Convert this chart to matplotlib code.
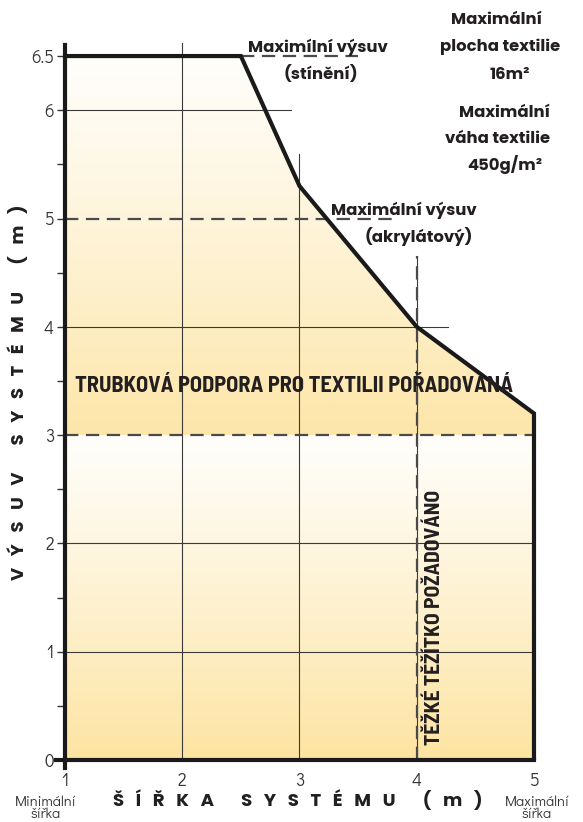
import numpy as np
import matplotlib
matplotlib.use("Agg")
import matplotlib.pyplot as plt
from matplotlib.patches import Polygon
from matplotlib.colors import to_rgb

# ---- data ----
width_m = [1.0, 1.0, 2.5, 3.0, 4.0, 5.0, 5.0]      # system width (m)
extension_m = [0.0, 6.5, 6.5, 5.3, 4.0, 3.2, 0.0]  # max extension (m)
x_ticks = [1, 2, 3, 4, 5]
y_ticks = [0, 1, 2, 3, 4, 5, 6, 6.5]
y_tick_labels = ["0", "1", "2", "3", "4", "5", "6", "6.5"]
shading_limit = 6.5
acrylic_limit = 5.0
tube_support_limit = 3.0
heavy_weight_width = 4.0

GEO = ["Poppins", "Montserrat", "Questrial", "DejaVu Sans"]
LIGHT = ["Didact Gothic", "Questrial", "DejaVu Sans"]
COND = ["Barlow Semi Condensed", "Roboto Condensed", "DejaVu Sans"]
INK = "#231f20"

fig = plt.figure(figsize=(5.83, 8.22), dpi=100)
W, H = 583, 822
xlim = (0.85, 5.3)
ylim = (-0.1, 6.8)
def px_x(x): return 65 + (x - 1) * 117.25
def px_y(y): return 760 - y * 108.3
left = px_x(xlim[0]) / W
right = px_x(xlim[1]) / W
bottom = (H - px_y(ylim[0])) / H
top = (H - px_y(ylim[1])) / H
ax = fig.add_axes([left, bottom, right - left, top - bottom])
ax.set_xlim(*xlim)
ax.set_ylim(*ylim)
ax.patch.set_alpha(0)

# ---- gradient fill clipped to polygon ----
poly = Polygon(list(zip(width_m, extension_m)), closed=True, facecolor="none",
               edgecolor="none")
ax.add_patch(poly)
ny = 600
ys = np.linspace(0, shading_limit, ny)
white = np.array(to_rgb("#FFFEFB"))
yel_hi = np.array(to_rgb("#FDE6A9"))
yel_lo = np.array(to_rgb("#FDE4A2"))
cols = np.zeros((ny, 1, 3))
for i, yv in enumerate(ys):
    if yv >= tube_support_limit:
        t = (shading_limit - yv) / (shading_limit - tube_support_limit)
        c = white + (yel_hi - white) * t ** 1.1
    else:
        t = (tube_support_limit - yv) / tube_support_limit
        c = white + (yel_lo - white) * t ** 1.1
    cols[i, 0] = c
im = ax.imshow(cols, extent=(1, 5, 0, shading_limit), origin="lower",
               aspect="auto", interpolation="bilinear", zorder=1)
im.set_clip_path(poly)

grid_c = "#3a3a3a"
ax.plot([1, 5], [1, 1], color=grid_c, lw=0.8, zorder=2)
ax.plot([1, 5], [2, 2], color=grid_c, lw=0.8, zorder=2)
ax.plot([1, 4.27], [4, 4], color=grid_c, lw=0.8, zorder=2)
ax.plot([1, 2.93], [6, 6], color=grid_c, lw=0.8, zorder=2)
ax.plot([2, 2], [0, 6.62], color=grid_c, lw=0.8, zorder=2)
ax.plot([3, 3], [0, 5.6], color=grid_c, lw=0.8, zorder=2)
ax.plot([heavy_weight_width] * 2, [0, 4.65], color=grid_c, lw=0.8, zorder=2)

dash_c = "#4a4a4a"
ds = dict(color=dash_c, lw=1.6, dashes=(6, 3.4), zorder=3)
ax.plot([1, 5], [tube_support_limit] * 2, **ds)
ax.plot([1, 3.82], [acrylic_limit] * 2, **ds)
ax.plot([2.5, 3.5], [shading_limit] * 2, **ds)
ax.plot([heavy_weight_width] * 2, [0, 4.65], **ds)

ax.plot(width_m[1:], extension_m[1:], color="#1a1a1a", lw=3.0,
        solid_joinstyle="miter", solid_capstyle="butt", zorder=5)

for s in ["top", "right"]:
    ax.spines[s].set_visible(False)
ax.spines["left"].set_position(("data", 1))
ax.spines["bottom"].set_position(("data", 0))
ax.spines["left"].set_bounds(-0.07, 6.6)
ax.spines["bottom"].set_bounds(0.92, 5.0)
for s in ["left", "bottom"]:
    ax.spines[s].set_linewidth(3.0)
    ax.spines[s].set_color("#1a1a1a")
    ax.spines[s].set_zorder(6)

ax.set_yticks(y_ticks)
ax.set_yticklabels(y_tick_labels)
ax.set_yticks(np.arange(0.5, 6.0, 1.0), minor=True)
ax.tick_params(axis="y", which="major", length=6, width=1.0, color="#333333",
               labelsize=12.5, labelcolor="#333333", pad=2)
ax.tick_params(axis="y", which="minor", length=6, width=1.0, color="#333333")
ax.set_xticks(x_ticks)
ax.set_xticklabels([str(v) for v in x_ticks])
ax.tick_params(axis="x", length=0, labelsize=12.5, labelcolor="#333333", pad=9)
for lab in ax.get_xticklabels() + ax.get_yticklabels():
    lab.set_family(LIGHT)

renderer = fig.canvas.get_renderer()

def fit(txt, target_px, vertical=False):
    """scale font so the text spans target_px pixels"""
    for _ in range(3):
        bb = txt.get_window_extent(renderer=renderer)
        cur = bb.height if vertical else bb.width
        if cur > 0:
            txt.set_fontsize(txt.get_fontsize() * target_px / cur)

def dx(px): return 1 + (px - 65) / 117.25
def dy(py): return (760 - py) / 108.3

bold = dict(fontweight="bold", color=INK, family=GEO)

ref = ax.text(dx(404), dy(210), "Maximální výsuv", ha="center", va="center",
              clip_on=False, fontsize=11, **bold)
fit(ref, 146)
fs = ref.get_fontsize()

def t(px, py, s):
    return ax.text(dx(px), dy(py), s, ha="center", va="center", clip_on=False,
                   fontsize=fs, **bold)

t(318, 47, "Maximílní výsuv")
t(321, 74, "(stínění)")
t(497, 20, "Maximální")
t(500, 47, "plocha textilie")
t(510, 75, "16m²")
t(505, 113, "Maximální")
t(498, 139, "váha textilie")
t(505, 165, "450g/m²")
t(419, 236, "(akrylátový)")

tr = ax.text(dx(294), dy(386), "TRUBKOVÁ PODPORA PRO TEXTILII POŘADOVANÁ",
             ha="center", va="center", fontsize=13.5, fontweight="bold",
             family=COND, color=INK, zorder=7)
fit(tr, 438)
tz = ax.text(dx(435), dy(617), "TĚŽKÉ TĚŽÍTKO POŽADOVÁNO", rotation=90,
             ha="center", va="center", fontsize=13, fontweight="bold",
             family=COND, color=INK, zorder=7)
fit(tz, 255, vertical=True)

xtitle = "Š   Í   Ř   K   A       S   Y   S   T   É   M   U       (   m   )"
ytitle = "V   Ý   S   U   V       S   Y   S   T   É   M   U       (   m   )"
xt = fig.text(298 / W, 1 - 801 / H, xtitle, ha="center", va="center", fontsize=11,
              fontweight="bold", color=INK, family=GEO)
fit(xt, 370)
yt = fig.text(19 / W, 1 - 392 / H, ytitle, ha="center", va="center", rotation=90,
              fontsize=11, fontweight="bold", color=INK, family=GEO)
fit(yt, 370, vertical=True)

for xc, word in [(46, "Minimální\nšířka"), (537, "Maximální\nšířka")]:
    fig.text(xc / W, 1 - 821 / H, word, ha="center", va="bottom",
             fontsize=10.5, color="#333333", family=LIGHT, linespacing=0.9,
             multialignment="center")

fig.savefig("out.png", dpi=100)
